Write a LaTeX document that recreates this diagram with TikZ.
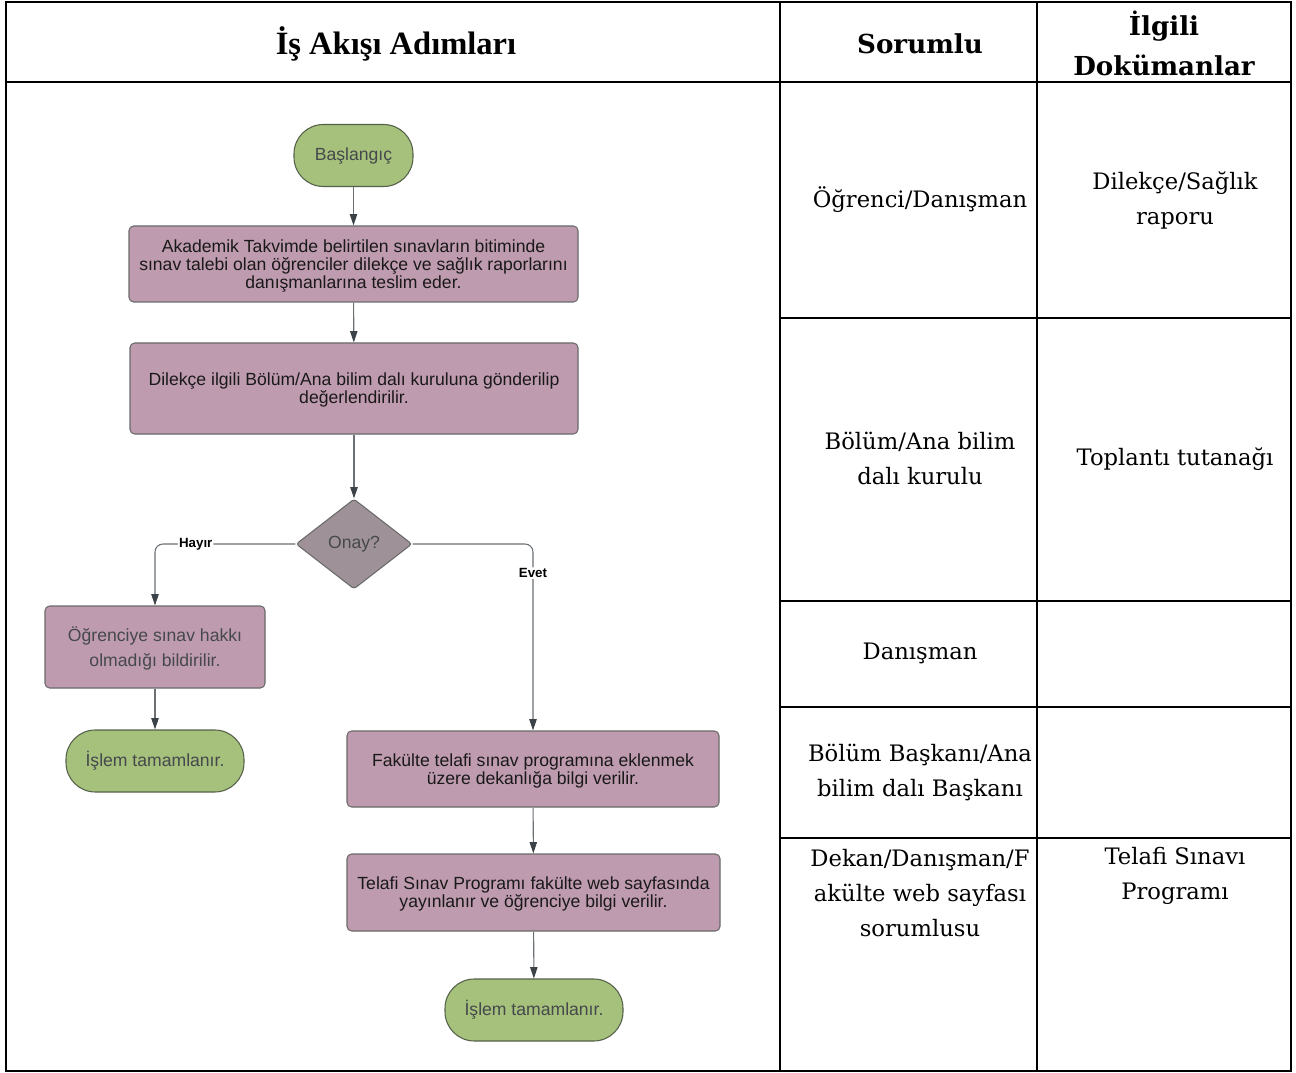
\documentclass[tikz,border=0pt]{standalone}
\usepackage{fontspec}
\setmainfont{DejaVu Serif}
\newfontfamily\flowfont{Liberation Sans}
\newfontfamily\headfont{Liberation Serif}
\usetikzlibrary{shapes.geometric,arrows.meta}
\definecolor{termfill}{HTML}{A6C17C}
\definecolor{termdraw}{HTML}{56614A}
\definecolor{procfill}{HTML}{BF9BAF}
\definecolor{procdraw}{HTML}{6A6A6A}
\definecolor{decfill}{HTML}{9E9298}
\definecolor{linec}{HTML}{6B7075}
\definecolor{tipc}{HTML}{3C4348}
\definecolor{greytext}{HTML}{45484C}
\begin{document}
\begin{tikzpicture}[x=0.75pt,y=-0.75pt,
  frame/.style={line width=2pt, black},
  term/.style={draw=termdraw, fill=termfill, line width=0.8pt, rounded corners=22pt, inner sep=0pt,
    minimum width=133.5pt, minimum height=46.5pt, text=greytext, font=\flowfont\fontsize{13.2}{15}\selectfont},
  proc/.style={draw=procdraw, fill=procfill, line width=0.8pt, rounded corners=3.5pt, inner sep=0pt,
    align=center, text depth=0pt, text=black!90, font=\flowfont\fontsize{13.2}{13.5}\selectfont},
  dec/.style={draw=procdraw, fill=decfill, line width=0.8pt, shape=diamond, rounded corners=2pt, inner sep=0pt,
    minimum width=87pt, minimum height=67.5pt, text=greytext, font=\flowfont\fontsize{13.2}{15}\selectfont},
  arr/.style={draw=linec, line width=0.8pt, -{Triangle[width=5.5pt,length=8.5pt,color=tipc,fill=tipc]}},
  lbl/.style={fill=white, inner sep=0.8pt, font=\flowfont\bfseries\fontsize{10}{12}\selectfont, text=black},
  cell/.style={align=center, font=\fontsize{17}{26.25}\selectfont, inner sep=0pt},
  hcell/.style={align=center, font=\bfseries\fontsize{19.6}{30}\selectfont, inner sep=0pt}
]
\useasboundingbox (0,0) rectangle (1296,1073);
\fill[white] (0,0) rectangle (1296,1073);

% table frame
\draw[frame] (6,2) rectangle (1291,1071);
\draw[frame] (6,82) -- (1291,82);
\draw[frame] (780,2) -- (780,1071);
\draw[frame] (1037,2) -- (1037,1071);
\draw[frame] (780,318) -- (1291,318);
\draw[frame] (780,601) -- (1291,601);
\draw[frame] (780,707) -- (1291,707);
\draw[frame] (780,838) -- (1291,838);

% headers
\node[inner sep=0pt, font=\headfont\bfseries\fontsize{24.4}{28}\selectfont] (h1) at (396,44) {İş Akışı Adımları};
\node[hcell] (h2) at (920,44) {Sorumlu};
\node[hcell] (h3) at (1164,43) {İlgili\\Dokümanlar};

% responsible / documents
\node[cell] (r1) at (920,200) {Öğrenci/Danışman};
\node[cell] (d1) at (1175,200.5) {Dilekçe/Sağlık\\raporu};
\node[cell] (r2) at (920,458) {Bölüm/Ana bilim\\dalı kurulu};
\node[cell] (d2) at (1175,459) {Toplantı tutanağı};
\node[cell] (r3) at (920,653) {Danışman};
\node[cell] (r4) at (920,772.5) {Bölüm Başkanı/Ana\\bilim dalı Başkanı};
\node[cell] (r5) at (920,893.5) {Dekan/Danışman/F\\akülte web sayfası\\sorumlusu};
\node[cell] (d5) at (1175,875.5) {Telafi Sınavı\\Programı};

% flowchart
\node[term, minimum width=89.25pt] (start) at (353.5,155.5) {Başlangıç};
\node[proc, minimum width=336.75pt, minimum height=57pt] (b1) at (353.5,264)
  {Akademik Takvimde belirtilen sınavların bitiminde\\sınav talebi olan öğrenciler dilekçe ve sağlık raporlarını\\danışmanlarına teslim eder.};
\node[proc, minimum width=336pt, minimum height=68.25pt] (b2) at (354,388.5)
  {Dilekçe ilgili Bölüm/Ana bilim dalı kuruluna gönderilip\\değerlendirilir.};
\node[dec] (d) at (354,544) {Onay?};
\node[proc, minimum width=165pt, minimum height=61.5pt, text=greytext,
  font=\flowfont\fontsize{13.2}{18.75}\selectfont] (b3) at (155,647)
  {Öğrenciye sınav hakkı\\olmadığı bildirilir.};
\node[term] (end1) at (155,761) {İşlem tamamlanır.};
\node[proc, minimum width=279pt, minimum height=57pt] (b4) at (533,769)
  {Fakülte telafi sınav programına eklenmek\\üzere dekanlığa bilgi verilir.};
\node[proc, minimum width=279.75pt, minimum height=57.75pt] (b5) at (533.5,892.5)
  {Telafi Sınav Programı fakülte web sayfasında\\yayınlanır ve öğrenciye bilgi verilir.};
\node[term] (end2) at (534,1010) {İşlem tamamlanır.};

\draw[arr] (start) -- (b1);
\draw[arr] (b1) -- (b2);
\draw[arr] (b2) -- (d);
\draw[arr, rounded corners=6pt] (d.west) -| node[lbl, pos=0.355] (lno) {Hayır} (b3.north);
\draw[arr, rounded corners=6pt] (d.east) -| node[lbl, pos=0.578] (lyes) {Evet} (b4.north);
\draw[arr] (b3) -- (end1);
\draw[arr] (b4) -- (b5);
\draw[arr] (b5) -- (end2);
\end{tikzpicture}
\end{document}
